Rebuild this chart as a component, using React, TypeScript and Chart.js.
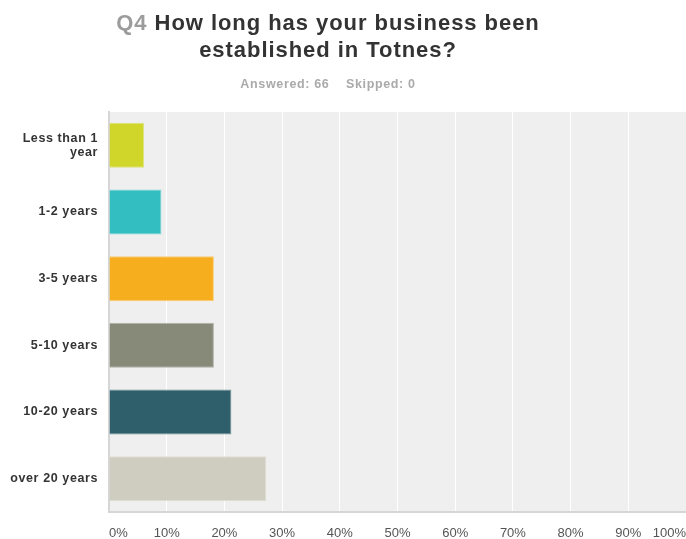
import React, { useEffect, useRef } from "react";
import { Chart, registerables } from "chart.js";

Chart.register(...registerables);

const categories: (string | string[])[] = [
  ["Less than 1", "year"],
  "1-2 years",
  "3-5 years",
  "5-10 years",
  "10-20 years",
  "over 20 years",
];
const percentages = [6.06, 9.09, 18.18, 18.18, 21.21, 27.27];
const barColors = ["#d0d62a", "#33bfc1", "#f6ae1e", "#878a79", "#2e5f6b", "#cfcdbf"];
const borderColors = ["#dde27a", "#7ad6d8", "#f9cb72", "#b0b2a6", "#6f9099", "#e0dfd6"];
const xTicks = [0, 10, 20, 30, 40, 50, 60, 70, 80, 90, 100];

const FONT = "Liberation Sans, Arial, sans-serif";

const bgPlugin = {
  id: "plotBg",
  beforeDraw(chart: any) {
    const { ctx, chartArea } = chart;
    ctx.save();
    ctx.fillStyle = "#efefef";
    ctx.fillRect(chartArea.left, chartArea.top, chartArea.right - chartArea.left, chartArea.bottom - chartArea.top);
    ctx.restore();
  },
};

export default function App() {
  const ref = useRef<HTMLCanvasElement>(null);
  useEffect(() => {
    if (!ref.current) return;
    const chart = new Chart(ref.current, {
      type: "bar",
      data: {
        labels: categories,
        datasets: [
          {
            data: percentages,
            backgroundColor: barColors,
            borderColor: borderColors,
            borderWidth: 1,
            barPercentage: 0.675,
            categoryPercentage: 1,
          },
        ],
      },
      options: {
        indexAxis: "y",
        animation: false,
        responsive: false,
        maintainAspectRatio: false,
        layout: { padding: { top: 112, left: 0, right: 0, bottom: 0 } },
        plugins: {
          legend: { display: false },
          title: { display: false },
          tooltip: { enabled: false },
        },
        scales: {
          x: {
            min: 0,
            max: 100,
            afterBuildTicks: (scale: any) => {
              scale.ticks = xTicks.map((v) => ({ value: v }));
            },
            afterFit: (scale: any) => {
              scale.height = 27;
              scale.paddingLeft = 0;
              scale.paddingRight = 0;
            },
            ticks: {
              callback: (v: any) => v + "%",
              align: "inner",
              padding: 14,
              color: "#555555",
              font: { family: FONT, size: 13 },
              maxRotation: 0,
              autoSkip: false,
            },
            grid: { color: "#ffffff", lineWidth: 1, drawTicks: false },
            border: { color: "#d6d6d6", width: 2 },
          },
          y: {
            afterFit: (scale: any) => {
              scale.width = 109;
              if (!scale.__spaced) {
                scale.__spaced = true;
                const orig = scale.drawLabels;
                scale.drawLabels = function (area: any) {
                  const c = this.ctx;
                  c.save();
                  c.letterSpacing = "0.6px";
                  orig.call(this, area);
                  c.restore();
                };
              }
            },
            ticks: {
              padding: 11,
              color: "#333333",
              font: { family: FONT, size: 12.5, weight: "bold", lineHeight: 1.15 },
            },
            grid: { display: false, drawTicks: false },
            border: { color: "#d6d6d6", width: 2 },
          },
        },
      },
      plugins: [bgPlugin],
    } as any);
    return () => chart.destroy();
  }, []);

  return (
    <div style={{ position: "fixed", left: 0, top: 0, width: 686, height: 539, background: "#fff" }}>
      <canvas ref={ref} width={686} height={539} style={{ position: "absolute", left: 0, top: 0 }} />
      <div
        style={{
          position: "absolute",
          left: 0,
          top: 9,
          width: 656,
          textAlign: "center",
          fontFamily: FONT,
          fontWeight: "bold",
          fontSize: 22,
          letterSpacing: "0.95px",
          lineHeight: "27px",
          color: "#333333",
        }}
      >
        <span style={{ color: "#9c9c9c" }}>Q4</span> How long has your business been
        <br />
        established in Totnes?
      </div>
      <div
        style={{
          position: "absolute",
          left: 0,
          top: 77,
          width: 656,
          textAlign: "center",
          fontFamily: FONT,
          fontWeight: "bold",
          fontSize: 12.5,
          letterSpacing: "0.65px",
          color: "#aaaaaa",
          whiteSpace: "pre",
        }}
      >
        {"Answered: 66    Skipped: 0"}
      </div>
    </div>
  );
}
